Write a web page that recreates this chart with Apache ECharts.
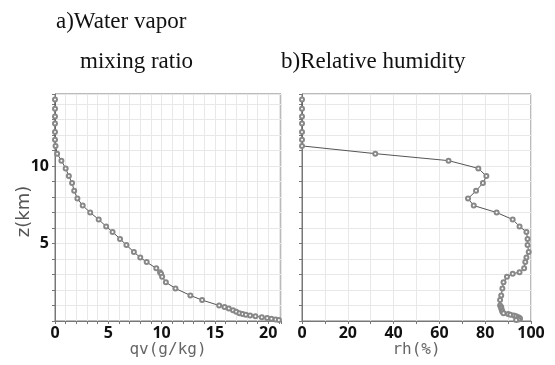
<!DOCTYPE html>
<html>
<head>
<meta charset="utf-8">
<script src="https://cdn.jsdelivr.net/npm/echarts@6/dist/echarts.min.js"></script>
<style>html,body{margin:0;padding:0;background:#fff}#c{width:555px;height:365px}</style>
</head>
<body>
<div id="c"></div>
<script>
// Height levels (km) of the sounding
const zLevels = [14.3, 13.7, 13.2, 12.75, 12.2, 11.7, 11.3, 10.8, 10.35, 9.85, 9.35, 8.9, 8.4, 7.9, 7.45, 7.0, 6.55, 6.1, 5.75, 5.3, 4.9, 4.45, 4.1, 3.8, 3.4, 3.15, 3.05, 2.85, 2.5, 2.1, 1.65, 1.35, 1.0, 0.9, 0.8, 0.7, 0.6, 0.5, 0.45, 0.4, 0.35, 0.3, 0.25, 0.2, 0.15, 0.1, 0.06];
// a) Water vapor mixing ratio (g/kg)
const qvValues = [0, 0, 0, 0, 0, 0, 0.05, 0.2, 0.6, 1.0, 1.3, 1.6, 1.8, 2.1, 2.6, 3.3, 4.1, 4.8, 5.4, 6.1, 6.7, 7.4, 8.0, 8.6, 9.5, 9.85, 9.95, 10.05, 10.4, 11.3, 12.7, 13.8, 15.4, 15.9, 16.3, 16.7, 17.0, 17.3, 17.6, 17.9, 18.3, 18.8, 19.4, 19.9, 20.3, 20.7, 21.0];
// b) Relative humidity (%)
const rhValues = [0, 0, 0, 0, 0, 0, 0, 32, 64, 77, 80.5, 79, 76, 72.5, 75, 85, 92, 95, 98, 98.5, 98.5, 99, 98, 97.5, 97, 95, 92, 89.5, 88, 87.5, 87, 86.5, 86.5, 87, 87, 87.3, 87.5, 88, 90, 91, 92.5, 93.5, 94.5, 95, 95.2, 94.5, 93.5];

const panelTitles = ['a)Water vapor', 'mixing ratio', 'b)Relative humidity'];
const xNames = ['qv(g/kg)', 'rh(%)'];
const yName = 'z(km)';

const chart = echarts.init(document.getElementById('c'));
const gridLine = { show: true, lineStyle: { color: '#e8e8e8', width: 1 } };
const axisLine = { show: true, lineStyle: { color: '#777', width: 1 } };
const tick = { show: true, length: 3, lineStyle: { color: '#777' } };
const tickLabel = { color: '#111', fontFamily: 'Noto Sans', fontWeight: 'bold', fontSize: 16 };
const nameStyle = { color: '#666', fontFamily: 'DejaVu Sans Mono', fontSize: 16 };
const titleStyle = { fontFamily: 'Liberation Serif', fontWeight: 'normal', fontSize: 23, color: '#111' };

function yAx(idx, showLabels) {
  return {
    type: 'value', gridIndex: idx, min: 0, max: 14.65, interval: 1,
    axisLine: axisLine, axisTick: tick, splitLine: gridLine,
    axisLabel: Object.assign({ show: showLabels, margin: 6,
      formatter: v => (v > 0 && v % 5 === 0) ? String(v) : '' }, tickLabel),
    name: showLabels ? yName : '', nameLocation: 'middle', nameGap: 22, nameMoveOverlap: false,
    nameTextStyle: { color: '#555', fontFamily: 'DejaVu Sans', fontSize: 18, padding: [0, 8, 0, 0] }
  };
}

const option = {
  animation: false,
  backgroundColor: '#fff',
  title: [
    { text: panelTitles[0], left: 51, top: 5, textStyle: titleStyle },
    { text: panelTitles[1], left: 75, top: 45, textStyle: titleStyle },
    { text: panelTitles[2], left: 276, top: 45, textStyle: titleStyle }
  ],
  grid: [
    { left: 55, top: 94, width: 226, height: 227, show: true, borderColor: '#777', borderWidth: 1, backgroundColor: 'transparent' },
    { left: 302, top: 94, width: 229, height: 227, show: true, borderColor: '#777', borderWidth: 1, backgroundColor: 'transparent' }
  ],
  xAxis: [
    { type: 'value', gridIndex: 0, min: 0, max: 21.2, interval: 1,
      axisLine: axisLine, axisTick: tick, splitLine: gridLine,
      axisLabel: Object.assign({ margin: 4, formatter: v => (v % 5 === 0) ? String(v) : '' }, tickLabel),
      name: xNames[0], nameLocation: 'middle', nameGap: 21, nameMoveOverlap: false, nameTextStyle: nameStyle },
    { type: 'value', gridIndex: 1, min: 0, max: 100, interval: 10,
      axisLine: axisLine, axisTick: tick, splitLine: gridLine,
      axisLabel: Object.assign({ margin: 4, formatter: v => (v % 20 === 0) ? String(v) : '' }, tickLabel),
      name: xNames[1], nameLocation: 'middle', nameGap: 21, nameMoveOverlap: false, nameTextStyle: nameStyle }
  ],
  yAxis: [yAx(0, true), yAx(1, false)],
  series: [
    { type: 'line', xAxisIndex: 0, yAxisIndex: 0, clip: false,
      data: zLevels.map((z, i) => [qvValues[i], z]),
      symbol: 'emptyCircle', symbolSize: 4, showAllSymbol: true,
      lineStyle: { color: '#555', width: 1 },
      itemStyle: { color: '#888', borderWidth: 1 } },
    { type: 'line', xAxisIndex: 1, yAxisIndex: 1, clip: false,
      data: zLevels.map((z, i) => [rhValues[i], z]),
      symbol: 'emptyCircle', symbolSize: 4, showAllSymbol: true,
      lineStyle: { color: '#555', width: 1 },
      itemStyle: { color: '#888', borderWidth: 1 } }
  ]
};
chart.setOption(option);
</script>
</body>
</html>
